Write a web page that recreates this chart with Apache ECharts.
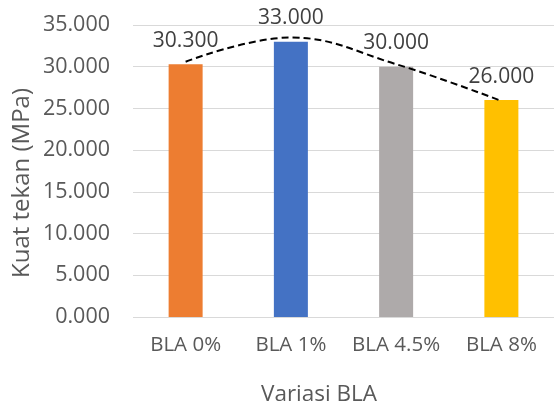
<!DOCTYPE html>
<html>
<head>
<meta charset="utf-8">
<script src="https://cdn.jsdelivr.net/npm/echarts@6/dist/echarts.min.js"></script>
<style>
  html, body { margin: 0; padding: 0; background: #fff; }
  #chart { width: 554px; height: 408px; }
</style>
</head>
<body>
<div id="chart"></div>
<script>
// Compressive strength per BLA variation
const categories = ['BLA 0%', 'BLA 1%', 'BLA 4.5%', 'BLA 8%'];
const strength = [30.3, 33.0, 30.0, 26.0];
const barColors = ['#ED7D31', '#4472C4', '#AEAAAA', '#FFC000'];
// dashed trend curve, sampled at each category
const trend = [30.6, 33.5, 30.3, 25.9];
const yTicks = [0, 5, 10, 15, 20, 25, 30, 35];

const FONT = '"Open Sans", "Noto Sans", sans-serif';
const TXT = '#595959';

const chart = echarts.init(document.getElementById('chart'));
chart.setOption({
  animation: false,
  grid: { left: 133, right: -2, top: 25, bottom: 91 },
  xAxis: {
    type: 'category',
    data: categories,
    axisLine: { show: false },
    axisTick: { show: false },
    axisLabel: { interval: 0, color: TXT, fontFamily: FONT, fontSize: 20.5, margin: 18 }
  },
  yAxis: {
    type: 'value',
    min: yTicks[0],
    max: yTicks[yTicks.length - 1],
    interval: 5,
    axisLine: { show: false },
    axisTick: { show: false },
    splitLine: { lineStyle: { color: '#D9D9D9', width: 1 } },
    axisLabel: {
      color: TXT, fontFamily: FONT, fontSize: 21.5, margin: 23,
      formatter: v => v.toFixed(3)
    }
  },
  series: [
    {
      type: 'bar',
      barWidth: 34,
      data: strength.map((v, i) => ({ value: v, itemStyle: { color: barColors[i] } })),
      label: {
        show: true,
        position: 'top',
        distance: 13,
        color: '#404040',
        fontFamily: FONT,
        fontSize: 21,
        formatter: p => p.value.toFixed(3)
      },
      z: 2
    },
    {
      type: 'line',
      data: trend,
      smooth: 0.4,
      symbol: 'none',
      lineStyle: { color: '#000', width: 2, type: [7, 4] },
      z: 3
    }
  ],
  graphic: [
    {
      type: 'text',
      x: 319,
      y: 395,
      style: {
        text: 'Variasi BLA', fill: TXT, font: '22.5px ' + FONT,
        textAlign: 'center', textVerticalAlign: 'middle'
      }
    },
    {
      type: 'text',
      rotation: Math.PI / 2,
      x: 22,
      y: 183,
      style: {
        text: 'Kuat tekan (MPa)', fill: TXT, font: '24px ' + FONT,
        textAlign: 'center', textVerticalAlign: 'middle'
      }
    }
  ]
});
</script>
</body>
</html>
